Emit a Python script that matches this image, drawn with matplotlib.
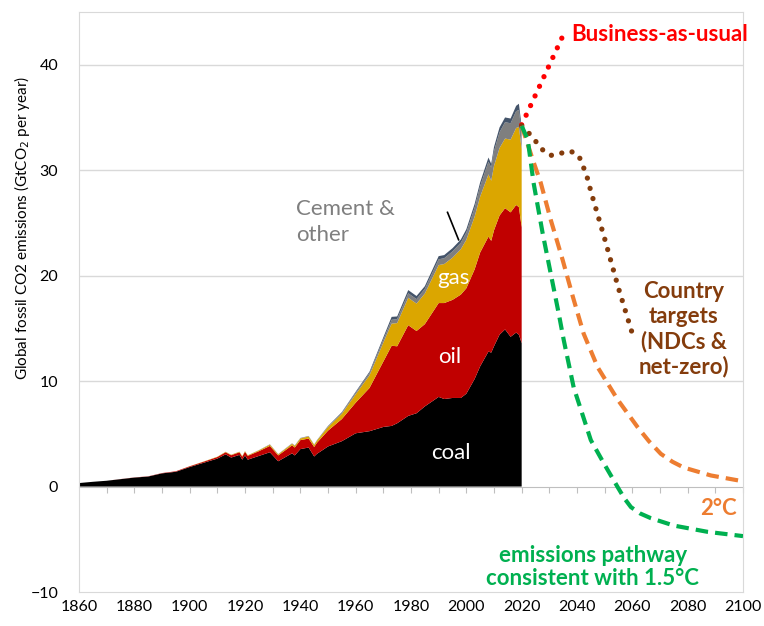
import matplotlib.pyplot as plt

plt.rcParams['font.family'] = ['Lato', 'DejaVu Sans']

# historical fossil emissions by source (GtCO2 per year)
years = [1860, 1865, 1870, 1875, 1880, 1885, 1890, 1895, 1900, 1905, 1910, 1913, 1915, 1918, 1919,
         1920, 1921, 1925, 1929, 1932, 1937, 1938, 1940, 1943, 1945, 1946, 1950, 1955, 1960, 1965,
         1970, 1973, 1975, 1979, 1982, 1985, 1990, 1992, 1995, 1998, 2000, 2003, 2005, 2008, 2009,
         2010, 2012, 2014, 2016, 2018, 2019, 2020]
coal = [0.33, 0.45, 0.55, 0.70, 0.85, 0.95, 1.25, 1.40, 1.85, 2.25, 2.65, 3.05, 2.75, 3.00, 2.55,
        2.95, 2.55, 2.90, 3.25, 2.40, 3.15, 2.95, 3.55, 3.70, 2.85, 3.10, 3.80, 4.30, 5.05, 5.25,
        5.65, 5.75, 6.00, 6.70, 6.95, 7.60, 8.50, 8.30, 8.40, 8.40, 8.80, 10.2, 11.4, 12.8, 12.7,
        13.3, 14.4, 14.9, 14.2, 14.6, 14.4, 13.6]
oil = [0.0, 0.0, 0.0, 0.01, 0.015, 0.02, 0.03, 0.05, 0.07, 0.10, 0.15, 0.20, 0.22, 0.25, 0.28,
       0.35, 0.36, 0.45, 0.60, 0.55, 0.75, 0.75, 0.85, 0.85, 0.90, 1.05, 1.50, 2.10, 2.90, 4.10,
       6.20, 7.60, 7.30, 8.60, 7.80, 7.80, 8.90, 9.10, 9.30, 9.80, 10.0, 10.4, 10.8, 10.9, 10.6,
       11.0, 11.3, 11.5, 11.8, 12.1, 12.1, 11.0]
gas = [0.0, 0.0, 0.0, 0.0, 0.0, 0.0, 0.0, 0.0, 0.01, 0.02, 0.03, 0.04, 0.04, 0.05, 0.05,
       0.05, 0.05, 0.08, 0.12, 0.10, 0.15, 0.15, 0.16, 0.20, 0.20, 0.20, 0.35, 0.50, 0.80, 1.20,
       1.80, 2.10, 2.20, 2.60, 2.60, 2.90, 3.60, 3.70, 4.00, 4.30, 4.60, 5.00, 5.30, 5.90, 5.70,
       6.10, 6.40, 6.60, 6.90, 7.30, 7.60, 7.40]
cement = [0.0, 0.0, 0.0, 0.0, 0.0, 0.0, 0.0, 0.0, 0.0, 0.0, 0.0, 0.01, 0.01, 0.01, 0.01,
          0.01, 0.01, 0.02, 0.04, 0.03, 0.05, 0.05, 0.05, 0.05, 0.04, 0.05, 0.07, 0.11, 0.16, 0.22,
          0.30, 0.36, 0.38, 0.43, 0.42, 0.45, 0.55, 0.55, 0.60, 0.62, 0.70, 0.85, 1.00, 1.20, 1.25,
          1.40, 1.50, 1.55, 1.55, 1.60, 1.60, 1.60]
other = [0.0, 0.0, 0.0, 0.0, 0.0, 0.0, 0.0, 0.0, 0.0, 0.0, 0.0, 0.0, 0.0, 0.0, 0.0,
         0.0, 0.0, 0.0, 0.0, 0.0, 0.0, 0.0, 0.0, 0.0, 0.0, 0.0, 0.03, 0.05, 0.08, 0.12,
         0.20, 0.28, 0.25, 0.30, 0.30, 0.25, 0.30, 0.30, 0.30, 0.30, 0.30, 0.35, 0.35, 0.40, 0.35,
         0.40, 0.45, 0.45, 0.45, 0.50, 0.60, 0.55]

# scenarios after 2020
bau_years = [2020, 2035]
bau = [34.3, 42.8]
ndc_years = [2020, 2023, 2025.5, 2028, 2030.5, 2034, 2037.7, 2040.6, 2042, 2043.5, 2045, 2050,
             2055, 2060]
ndc = [34.2, 33.4, 32.6, 31.8, 31.4, 31.6, 31.8, 31.4, 30.5, 29.5, 28.0, 23.5, 18.8, 14.5]
two_years = [2020, 2022, 2024, 2026.9, 2030.5, 2034.8, 2038.5, 2042.4, 2047.5, 2054.8, 2062,
             2066, 2070.3, 2074.5, 2078.6, 2088.4, 2100]
two_deg = [34.2, 32.6, 31.0, 28.8, 25.3, 21.5, 18.0, 14.5, 11.3, 8.2, 5.6, 4.3, 3.1, 2.35, 1.8,
           1.05, 0.5]
one5_years = [2020, 2022.2, 2024.3, 2027.6, 2030.5, 2033.4, 2035.2, 2038.8, 2045, 2049.7, 2054.8,
              2057.2, 2059.5, 2062.8, 2066.7, 2075, 2087.3, 2100]
one5 = [34.2, 32.9, 28.8, 24.0, 20.2, 16.4, 13.9, 9.4, 4.4, 2.2, -0.1, -1.15, -1.95, -2.55, -3.0,
        -3.7, -4.3, -4.7]

fig = plt.figure(figsize=(7.64, 6.26), dpi=100)
ax = fig.add_axes([79 / 764, 1 - 592 / 626, 664 / 764, 580 / 626])

ax.stackplot(years, coal, oil, gas, cement, other,
             colors=['black', '#c00000', '#dba600', '#7f7f7f', '#44546a'], lw=0, zorder=2)

dots = (0, (0.01, 2.0))
ax.plot(bau_years, bau, color='#ff0000', lw=3.8, ls=dots, dash_capstyle='round', zorder=3)
ax.plot(ndc_years, ndc, color='#843c0c', lw=3.8, ls=dots, dash_capstyle='round', zorder=3)
ax.plot(two_years, two_deg, color='#ed7d31', lw=3, ls=(0, (3, 1.7)), zorder=3)
ax.plot(one5_years, one5, color='#00b050', lw=3, ls=(0, (3, 1.7)), zorder=3)

ax.set_xlim(1860, 2100)
ax.set_ylim(-10, 45)
ax.set_xticks(range(1860, 2101, 20))
ax.set_yticks([-10, 0, 10, 20, 30, 40])
ax.tick_params(length=0, labelsize=11.5, colors='#000000')
ax.tick_params(axis='y', pad=15)
ax.tick_params(axis='x', pad=6)
for s in ax.spines.values():
    s.set_color('#d9d9d9')
for v in [10, 20, 30, 40]:
    ax.axhline(v, color='#d9d9d9', lw=1, zorder=0)

# zero line with small ticks every 10 years
sec = ax.secondary_xaxis(10 / 55)
sec.set_xticks(range(1870, 2101, 10))
sec.set_xticklabels([])
sec.tick_params(direction='out', length=4, color='#bfbfbf')
sec.spines['bottom'].set_color('#bfbfbf')

fig.text(22 / 764, 1 - 228 / 626, 'Global fossil CO2 emissions (GtCO$_2$ per year)',
         rotation=90, ha='center', va='center', fontsize=11)

ax.text(2038.1, 42.85, 'Business-as-usual', color='#ff0000', fontsize=16, fontweight='bold',
        ha='left', va='center')
ax.text(1938.6, 25.1, 'Cement &\nother', color='#7f7f7f', fontsize=16, ha='left', va='center',
        linespacing=1.4)
ax.plot([1993.2, 1997.2], [26.0, 23.4], color='black', lw=1.2, zorder=4)
ax.text(1995.4, 19.8, 'gas', color='white', fontsize=16, ha='center', va='center')
ax.text(1993.9, 12.3, 'oil', color='white', fontsize=16, ha='center', va='center')
ax.text(1994.3, 3.2, 'coal', color='white', fontsize=16, ha='center', va='center')
ax.text(2078.6, 14.9, 'Country\ntargets\n(NDCs &\nnet-zero)', color='#843c0c', fontsize=16,
        fontweight='bold', ha='center', va='center', linespacing=1.2)
ax.text(2091.3, -2.1, '2°C', color='#ed7d31', fontsize=16, fontweight='bold', ha='center',
        va='center')
ax.text(2045.7, -7.65, 'emissions pathway\nconsistent with 1.5°C', color='#00b050', fontsize=16,
        fontweight='bold', ha='center', va='center', linespacing=1.15)

fig.savefig('out.png', dpi=100)
